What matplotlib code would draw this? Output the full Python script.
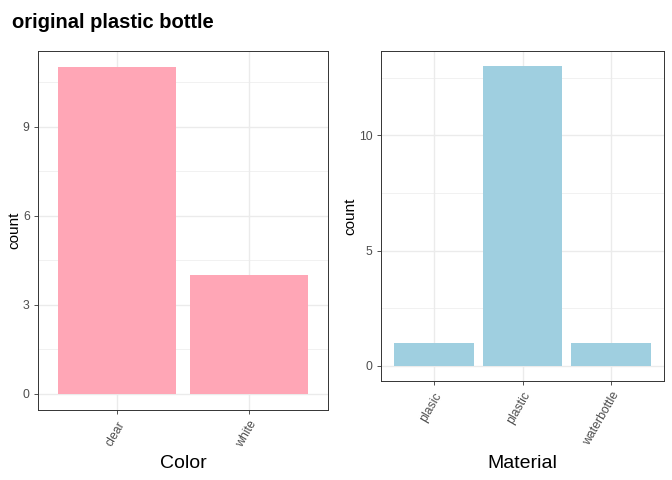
import matplotlib
matplotlib.use("Agg")
import matplotlib.pyplot as plt
from matplotlib.ticker import MultipleLocator, FixedLocator

# data
color_cats = ["clear", "white"]
color_counts = [11, 4]
material_cats = ["plasic", "plastic", "waterbottle"]
material_counts = [1, 13, 1]

W, H = 672, 480
fig = plt.figure(figsize=(W / 100, H / 100), dpi=100)
plt.rcParams['font.family'] = ['Liberation Sans', 'DejaVu Sans']


def px_axes(x0, y0, x1, y1):
    return fig.add_axes([x0 / W, 1 - y1 / H, (x1 - x0) / W, (y1 - y0) / H])


def style(ax, cats, counts, color, major, minor, xlabel, xl_x, yl_x):
    x = list(range(1, len(cats) + 1))
    ax.set_axisbelow(True)
    ax.bar(x, counts, width=0.9, color=color, zorder=2)
    top = max(counts)
    ax.set_ylim(-0.05 * top, top * 1.05)
    ax.set_xlim(0.4, len(cats) + 0.6)
    ax.yaxis.set_major_locator(MultipleLocator(major))
    ax.yaxis.set_minor_locator(FixedLocator(minor))
    ax.set_xticks(x)
    ax.set_xticklabels(cats, rotation=60, ha='right', va='top',
                       rotation_mode='anchor', fontsize=8.8, color='#4D4D4D')
    ax.tick_params(axis='y', labelsize=8.8, labelcolor='#4D4D4D', color='#333333',
                   length=3, width=0.6, which='major', pad=3)
    ax.tick_params(axis='y', which='minor', length=0)
    ax.tick_params(axis='x', color='#333333', length=3, width=0.6)
    ax.grid(True, which='major', color='#EBEBEB', linewidth=1.0)
    ax.grid(True, which='minor', axis='y', color='#EBEBEB', linewidth=0.5)
    for s in ax.spines.values():
        s.set_color('#333333')
        s.set_linewidth(0.7)
    # axis titles placed in figure pixels like the ggplot layout
    fig.text(xl_x / W, 1 - 463 / H, xlabel, fontsize=14, ha='center', va='center')
    bb = ax.get_position()
    fig.text(yl_x / W, (bb.y0 + bb.y1) / 2, "count", fontsize=11, rotation=90,
             ha='center', va='center')


ax1 = px_axes(38, 51, 328, 410)
style(ax1, color_cats, color_counts, '#FFA6B6', 3, [1.5, 4.5, 7.5, 10.5],
      "Color", 183, 14)

ax2 = px_axes(381, 51, 664, 381)
style(ax2, material_cats, material_counts, '#9FCFE0', 5, [2.5, 7.5, 12.5],
      "Material", 522, 350)

fig.text(12 / W, 1 - 22 / H, "original plastic bottle", fontsize=14.5,
         fontweight='bold', ha='left', va='center')

fig.savefig("out.png", dpi=100)
